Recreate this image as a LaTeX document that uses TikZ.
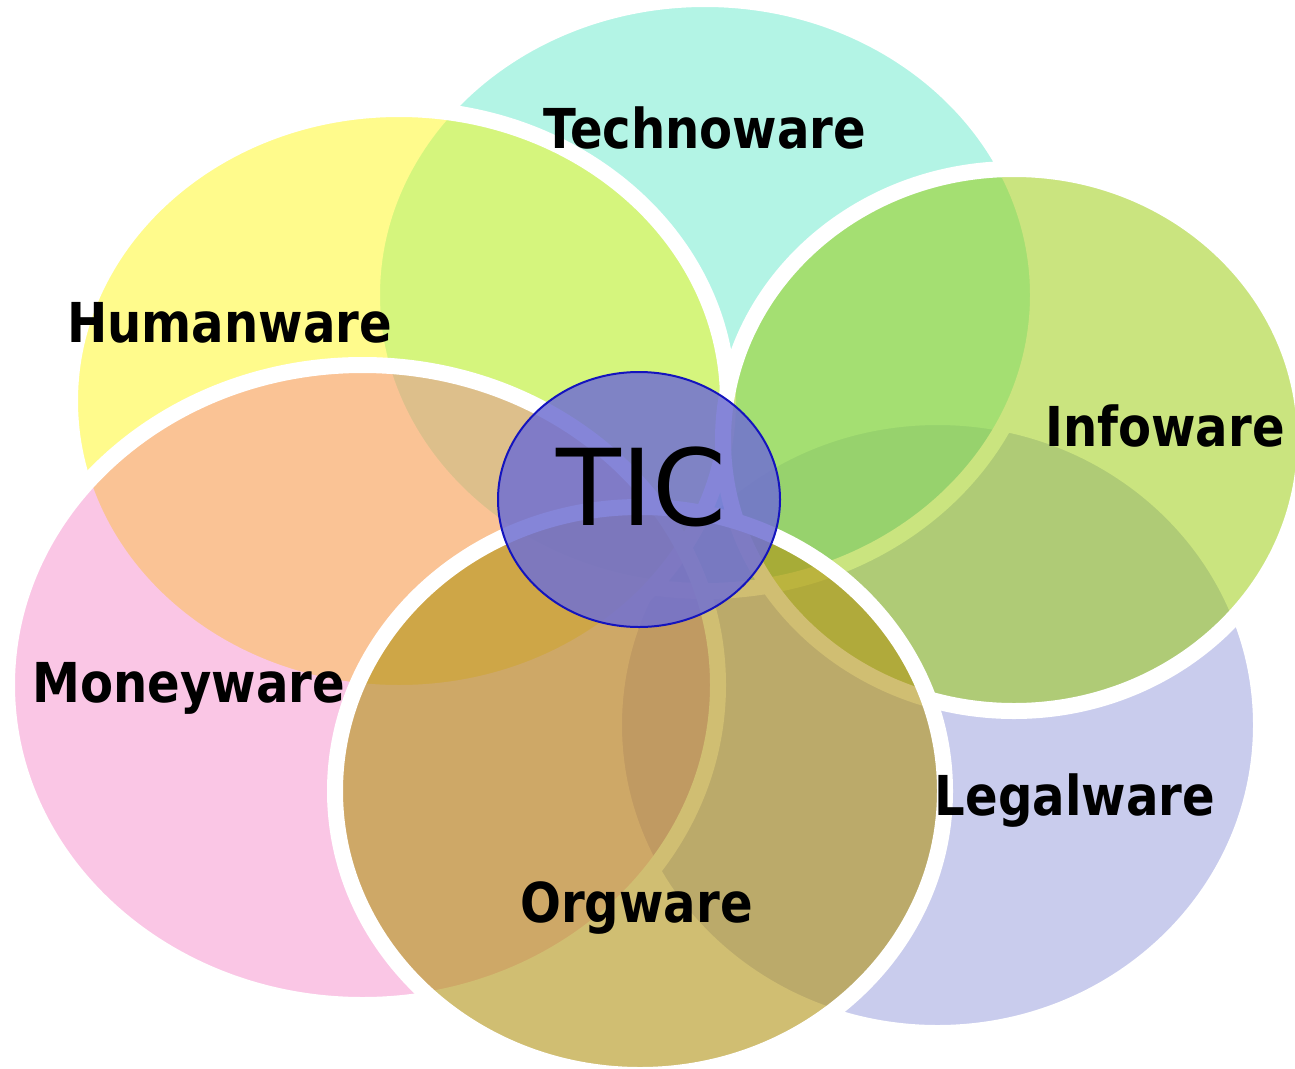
\documentclass[tikz,border=0pt]{standalone}
\usepackage{fontspec}
\newfontfamily\lblfont{DejaVu Sans}[FakeStretch=0.875]
\newfontfamily\ticfont{DejaVu Sans}
\definecolor{cLegal}{RGB}{149,155,221}
\definecolor{cTech}{RGB}{105,235,204}
\definecolor{cHuman}{RGB}{255,248,0}
\definecolor{cInfo}{RGB}{151,203,0}
\definecolor{cMoney}{RGB}{242,73,172}
\definecolor{cOrg}{RGB}{178,148,20}
\definecolor{cTIC}{RGB}{112,112,210}
\definecolor{cTICline}{RGB}{20,20,190}
\begin{document}
\begin{tikzpicture}[x=1pt,y=-1pt,
  venn/.style={draw=white, line width=16pt},
  lbl/.style={font=\lblfont\bfseries\fontsize{55}{60}\selectfont, anchor=base, inner sep=0pt, text=black}]
\useasboundingbox (0,0) rectangle (1295,1068);
\fill[white] (0,0) rectangle (1295,1068);
% ellipses, in drawing order
\path[venn, fill=cLegal, fill opacity=0.5] (937.5,725) ellipse [x radius=323.5pt, y radius=308pt];
\path[venn, fill=cTech, fill opacity=0.5] (705,295) ellipse [x radius=333pt, y radius=296pt];
\path[venn, fill=cHuman, fill opacity=0.45] (399,401) ellipse [x radius=329pt, y radius=292pt];
\path[venn, fill=cInfo, fill opacity=0.5] (1014,440) ellipse [x radius=291pt, y radius=271pt];
\path[venn, fill=cMoney, fill opacity=0.31] (362.5,685) ellipse [x radius=355.5pt, y radius=320pt];
\path[venn, fill=cOrg, fill opacity=0.6] (640,791) ellipse [x radius=305pt, y radius=284pt];
% centre
\path[draw=cTICline, line width=2pt, fill=cTIC, fill opacity=0.85] (639,499.5) ellipse [x radius=141pt, y radius=127.5pt];
\node[anchor=base, inner sep=0pt, font=\ticfont\fontsize{106}{110}\selectfont] (tic) at (641.5,525) {TIC};
% labels
\node[lbl] (techno) at (705,148) {Technoware};
\node[lbl] (human) at (229.5,342) {Humanware};
\node[lbl] (info) at (1165,446) {Infoware};
\node[lbl] (money) at (189,702) {Moneyware};
\node[lbl] (legal) at (1075,815) {Legalware};
\node[lbl] (org) at (636.5,922) {Orgware};
\end{tikzpicture}
\end{document}
